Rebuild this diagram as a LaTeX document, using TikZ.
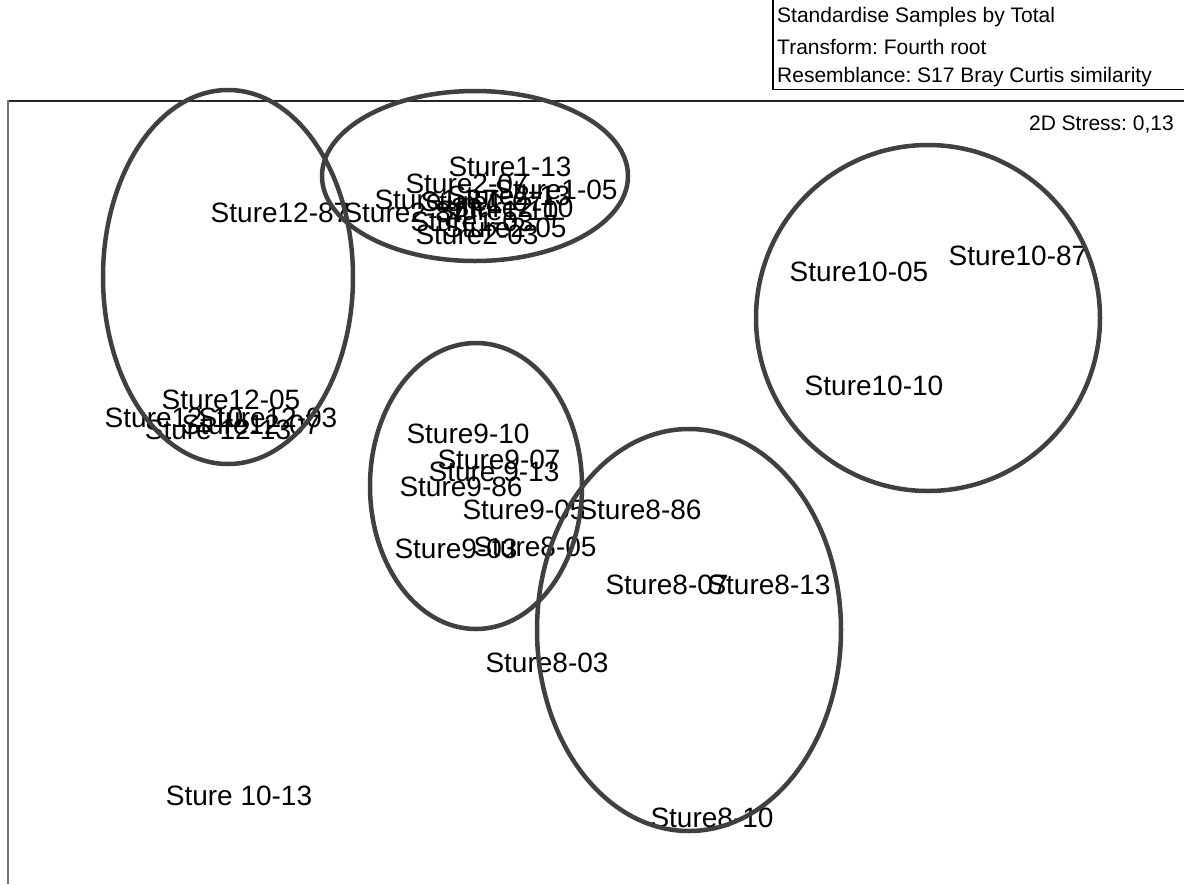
\documentclass[tikz,border=0pt]{standalone}
\usepackage{fontspec}
\setmainfont{Liberation Sans}
\frenchspacing
\definecolor{ring}{HTML}{404040}
\tikzset{
  lbl/.style={inner sep=0pt, font=\fontsize{28}{30}\selectfont},
  ringline/.style={draw=ring, line width=4.5pt},
  legendtxt/.style={inner sep=0pt, anchor=west, font=\fontsize{21}{24}\selectfont}
}
\begin{document}
\begin{tikzpicture}[x=1pt,y=-1pt]
\useasboundingbox (0,0) rectangle (1184,884);
\fill[white] (0,0) rectangle (1184,884);
% frame
\draw[line width=1.6pt, black!85] (7,101) -- (1184,101);
\draw[line width=2pt, black!55] (7.5,100.2) -- (7.5,884);
% legend box
\draw[line width=1.2pt] (773,-1) rectangle (1190,89.5);
\node[legendtxt] (lg1) at (777,17) {Standardise Samples by Total};
\node[legendtxt] (lg2) at (777,47) {Transform: Fourth root};
\node[legendtxt] (lg3) at (777,77) {Resemblance: S17 Bray Curtis similarity};
\node[inner sep=0pt, anchor=east, font=\fontsize{21}{24}\selectfont] (stress) at (1174,125) {2D Stress: 0,13};

% labels: Sture1/2 group
\node[lbl] (s113) at (510,167) {Sture1-13};
\node[lbl] (s207) at (467,184) {Sture2-07};
\node[lbl] (s105) at (556,190) {Sture1-05};
\node[lbl] (s213) at (509,196) {Sture2-13};
\node[lbl] (s187) at (436,200) {Sture1-87};
\node[lbl] (s107) at (482,202) {Sture1-07};
\node[lbl] (s210) at (512,208) {Sture2-10};
\node[lbl] (s110) at (497,211) {Sture1-10};
\node[lbl] (s1287) at (280,213) {Sture12-87};
\node[lbl] (s287) at (405,213) {Sture2-87};
\node[lbl] (s103) at (472,222) {Sture1-03};
\node[lbl] (s205) at (505,228) {Sture2-05};
\node[lbl] (s203) at (477,235) {Sture2-03};
% Sture12 group
\node[lbl] (s1205) at (231,400) {Sture12-05};
\node[lbl] (s1210) at (174,418) {Sture12-10};
\node[lbl] (s1203) at (268,418) {Sture12-03};
\node[lbl] (s1207) at (251,425) {Sture12-07};
\node[lbl] (s1213) at (218,430) {Sture 12-13};
% Sture9 group
\node[lbl] (s910) at (468,434) {Sture9-10};
\node[lbl] (s907) at (499,460) {Sture9-07};
\node[lbl] (s913) at (494,472) {Sture 9-13};
\node[lbl] (s986) at (461,487) {Sture9-86};
\node[lbl] (s905) at (524,510) {Sture9-05};
\node[lbl] (s903) at (456,549) {Sture9-03};
% Sture8 group
\node[lbl] (s886) at (640,510) {Sture8-86};
\node[lbl] (s805) at (535,547) {Sture8-05};
\node[lbl] (s807) at (667,585) {Sture8-07};
\node[lbl] (s813) at (769,585) {Sture8-13};
\node[lbl] (s803) at (547,663) {Sture8-03};
\node[lbl] (s810) at (712,818) {Sture8-10};
% Sture10 group
\node[lbl] (s1005) at (859,272) {Sture10-05};
\node[lbl] (s1087) at (1018,256) {Sture10-87};
\node[lbl] (s1010) at (874,386) {Sture10-10};
\node[lbl] (s1013) at (239,796) {Sture 10-13};

% ellipses
\draw[ringline] (228,277) ellipse [x radius=125, y radius=187];
\draw[ringline] (475,176) ellipse [x radius=153, y radius=85];
\draw[ringline] (928,318) ellipse [x radius=172, y radius=173];
\draw[ringline] (476,486) ellipse [x radius=106, y radius=143];
\draw[ringline] (689,630) ellipse [x radius=152, y radius=201];
\end{tikzpicture}
\end{document}
